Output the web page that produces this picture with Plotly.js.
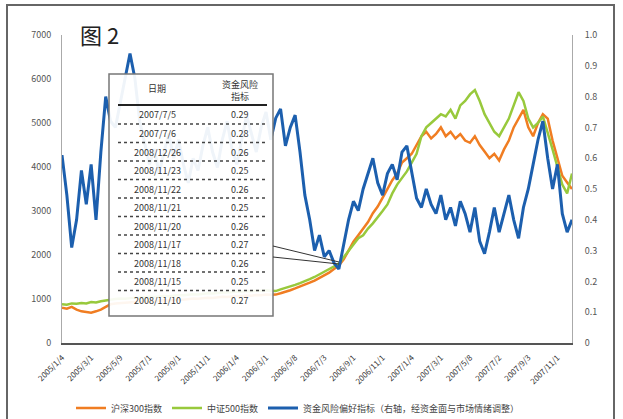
<!DOCTYPE html>
<html><head><meta charset="utf-8">
<script src="https://cdn.plot.ly/plotly-3.0.1.min.js"></script>
<style>html,body{margin:0;padding:0;background:#fff}#chart{width:623px;height:419px}</style>
</head><body><div id="chart"></div>
<script>
// ---- data ----
const tickLabels = ["2005/1/4","2005/3/1","2005/5/9","2005/7/1","2005/9/1","2005/11/1","2006/1/4","2006/3/1","2006/5/8","2006/7/3","2006/9/1","2006/11/1","2007/1/4","2007/3/1","2007/5/8","2007/7/2","2007/9/3","2007/11/1"];
const seriesNames = ["沪深300指数","中证500指数","资金风险偏好指标（右轴，经资金面与市场情绪调整）"];
const hs300 = [800,780,820,760,720,700,690,720,760,820,880,
 900,910,905,920,930,925,940,950,945,960,
 970,965,980,990,985,1000,1010,1005,1020,1030,
 1025,1040,1050,1045,1060,1070,1065,1080,1075,1090,
 1085,1100,1095,
 1100,1130,1160,1200,1240,1280,
 1320,1370,1420,1480,1540,1600,1680,1760,1900,2100,
 2300,2450,2600,2750,2950,3100,3300,3500,3700,3850,
 4100,4200,4300,4500,4700,4800,4650,4750,4900,4700,
 4800,4650,4750,4600,4550,4700,4500,4350,4200,4300,
 4150,4400,4600,4900,5100,5300,4900,4700,5000,5200,
 5100,4600,4200,3800,3650,3500];
const csi500 = [880,870,900,890,910,900,930,920,950,970,990,
 1000,1010,1005,1020,1030,1025,1040,1050,1045,1060,
 1070,1065,1080,1090,1085,1100,1110,1105,1120,1130,
 1125,1140,1150,1145,1160,1170,1165,1180,1175,1190,
 1185,1200,1190,
 1180,1220,1250,1280,1320,1360,
 1400,1450,1500,1560,1620,1680,1750,1800,1950,2100,
 2250,2380,2450,2600,2720,2850,3000,3150,3400,3600,
 3750,3900,4100,4300,4700,4900,5000,5100,5200,5150,
 5300,5100,5400,5500,5650,5750,5500,5200,5000,4800,
 4700,4900,5100,5400,5700,5500,5100,4900,5000,5150,
 4800,4400,4000,3600,3400,3850];
const riskIdx = [0.61,0.48,0.31,0.40,0.56,0.45,0.58,0.40,0.62,0.80,0.72,
 0.70,0.78,0.86,0.94,0.86,0.72,
 0.65,0.58,0.63,0.55,0.62,0.68,0.60,0.66,0.58,0.52,
 0.60,0.56,0.64,0.70,0.62,0.57,0.66,0.72,0.63,0.58,
 0.66,0.74,0.68,0.62,0.70,0.75,0.66,
 0.73,0.76,0.64,0.70,0.74,0.62,
 0.48,0.40,0.30,0.35,0.28,0.30,0.26,0.24,0.32,0.40,
 0.46,0.43,0.50,0.55,0.60,0.52,0.48,0.55,0.58,0.53,
 0.62,0.64,0.55,0.47,0.44,0.50,0.45,0.42,0.48,0.40,
 0.44,0.38,0.46,0.42,0.36,0.44,0.33,0.29,0.36,0.44,
 0.36,0.42,0.48,0.40,0.34,0.44,0.50,0.58,0.66,0.72,
 0.60,0.50,0.58,0.42,0.36,0.40];
const rightTickText = ["0","0.1","0.2","0.3","0.4","0.5","0.6","0.7","0.8","0.9","1.0"];
const tableHeader = ["日期","资金风险<br>指标"];
const tableDates = ["2007/7/5","2007/7/6","2008/12/26","2008/11/23","2008/11/22","2008/11/21","2008/11/20","2008/11/17","2008/11/18","2008/11/15","2008/11/10"];
const tableValues = ["0.29","0.28","0.26","0.25","0.26","0.25","0.26","0.27","0.26","0.25","0.27"];

// ---- build ----
const xIdx = hs300.map((_, i) => i);
const tickVals = tickLabels.map((_, k) => k * 6);
const rightTickVals = rightTickText.map(Number);

const L = 62, R = 572, T = 35, B = 343;
const px = v => (v - L) / (R - L);
const py = v => (B - v) / (B - T);

const traces = [
  {x: xIdx, y: hs300, name: seriesNames[0], type: 'scatter', mode: 'lines', line: {color: '#f07d22', width: 2.5}},
  {x: xIdx, y: csi500, name: seriesNames[1], type: 'scatter', mode: 'lines', line: {color: '#98c93c', width: 2.5}},
  {x: xIdx, y: riskIdx, name: seriesNames[2], type: 'scatter', mode: 'lines', yaxis: 'y2', line: {color: '#1c5fae', width: 3}}
];

const shapes = [
  {type: 'rect', xref: 'paper', yref: 'paper', x0: px(7), x1: px(614), y0: py(440), y1: py(5), line: {color: '#666', width: 2}, layer: 'below'},
  {type: 'rect', xref: 'paper', yref: 'paper', x0: px(109), x1: px(273), y0: py(316), y1: py(74), fillcolor: 'rgba(255,255,255,0.93)', line: {color: '#777', width: 1.5}, layer: 'above'},
  {type: 'line', xref: 'paper', yref: 'paper', x0: px(118), x1: px(267), y0: py(105), y1: py(105), line: {color: '#222', width: 2}},
  {type: 'line', xref: 'paper', yref: 'paper', x0: px(273), x1: px(339), y0: py(246), y1: py(262), line: {color: '#333', width: 1}},
  {type: 'line', xref: 'paper', yref: 'paper', x0: px(273), x1: px(339), y0: py(257), y1: py(264), line: {color: '#333', width: 1}}
];
for (let k = 0; k < tableDates.length - 1; k++) {
  const yy = 124 + k * 18.5;
  shapes.push({type: 'line', xref: 'paper', yref: 'paper', x0: px(118), x1: px(267), y0: py(yy), y1: py(yy), line: {color: '#444', width: 1.3, dash: 'dot'}});
}

const note = (text, x, y, size) => ({text: text, xref: 'paper', yref: 'paper', x: px(x), y: py(y), xanchor: 'center', yanchor: 'middle',
  showarrow: false, font: {size: size, color: '#333'}});
const annotations = [
  {text: '图 2', xref: 'paper', yref: 'paper', x: px(78), y: py(34), xanchor: 'left', yanchor: 'middle', showarrow: false, font: {size: 22, color: '#222'}},
  note(tableHeader[0], 157, 88, 9),
  note(tableHeader[1], 240, 91, 9)
];
tableDates.forEach((d, k) => {
  const yy = 115 + k * 18.5;
  annotations.push(note(d, 157, yy, 9));
  annotations.push(note(tableValues[k], 240, yy, 9));
});

const layout = {
  width: 623, height: 419,
  margin: {l: L, r: 623 - R, t: T, b: 419 - B, autoexpand: false},
  paper_bgcolor: '#fff', plot_bgcolor: '#fff',
  font: {family: 'Noto Sans CJK SC, Liberation Sans, sans-serif', color: '#444'},
  showlegend: true,
  legend: {orientation: 'h', x: px(298), xanchor: 'center', y: py(408), yanchor: 'middle', font: {size: 9, color: '#444'}, itemwidth: 30, tracegroupgap: 0},
  xaxis: {range: [0, 105], tickvals: tickVals, ticktext: tickLabels, tickangle: -45, tickfont: {size: 8, color: '#333'}, automargin: false,
          showline: true, linecolor: '#555', linewidth: 2, showgrid: false, zeroline: false, ticks: '', ticklabelstandoff: 5},
  yaxis: {range: [0, 7000], dtick: 1000, tickfont: {size: 9, color: '#555'}, showline: true, linecolor: '#aaa', linewidth: 1, automargin: false,
          showgrid: false, zeroline: false, ticks: '', ticklabelstandoff: 8},
  yaxis2: {range: [0, 1], overlaying: 'y', side: 'right', tickvals: rightTickVals, ticktext: rightTickText, automargin: false,
           tickfont: {size: 9, color: '#555'}, showline: true, linecolor: '#aaa', linewidth: 1, showgrid: false, zeroline: false,
           ticks: '', ticklabelstandoff: 10},
  shapes: shapes,
  annotations: annotations
};

Plotly.newPlot('chart', traces, layout, {displayModeBar: false, staticPlot: true});
</script>
</body></html>
